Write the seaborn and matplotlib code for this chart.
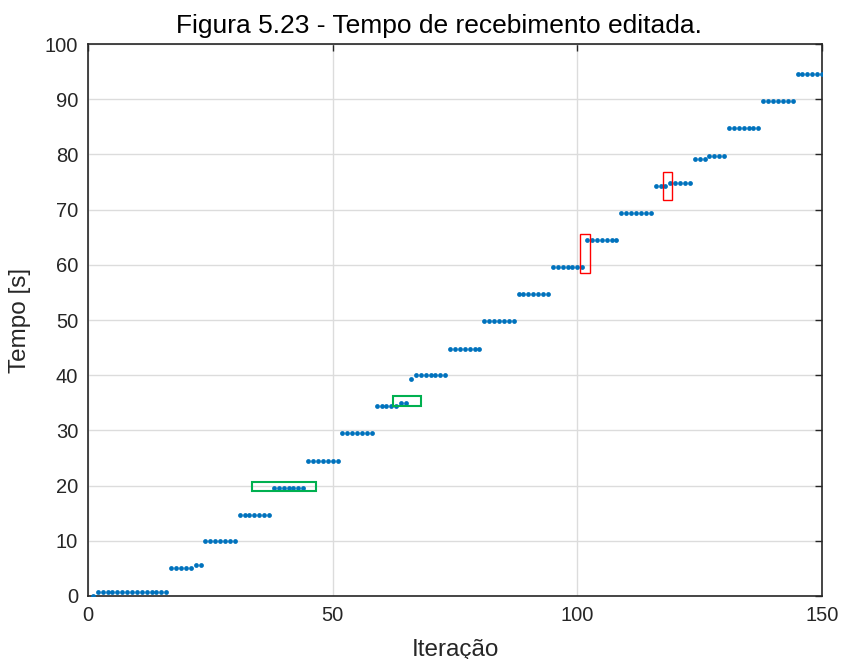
import matplotlib
matplotlib.use("Agg")
import matplotlib.pyplot as plt
from matplotlib.patches import Rectangle
import numpy as np
import pandas as pd
import seaborn as sns

# Reception time for each iteration (s)
iteracao = list(range(1, 151))
tempo = [
    0.0,
    0.7, 0.7, 0.7, 0.7, 0.7, 0.7, 0.7, 0.7, 0.7, 0.7, 0.7, 0.7, 0.7, 0.7, 0.7,
    5.0, 5.0, 5.0, 5.0, 5.0,
    5.6, 5.6,
    9.9, 9.9, 9.9, 9.9, 9.9, 9.9, 9.9,
    14.7, 14.7, 14.7, 14.7, 14.7, 14.7, 14.7,
    19.6, 19.6, 19.6, 19.6, 19.6, 19.6, 19.6,
    24.5, 24.5, 24.5, 24.5, 24.5, 24.5, 24.5,
    29.5, 29.5, 29.5, 29.5, 29.5, 29.5, 29.5,
    34.4, 34.4, 34.4, 34.4, 34.4,
    35.0, 35.0,
    39.3,
    40.0, 40.0, 40.0, 40.0, 40.0, 40.0, 40.0,
    44.8, 44.8, 44.8, 44.8, 44.8, 44.8, 44.8,
    49.8, 49.8, 49.8, 49.8, 49.8, 49.8, 49.8,
    54.7, 54.7, 54.7, 54.7, 54.7, 54.7, 54.7,
    59.6, 59.6, 59.6, 59.6, 59.6, 59.6, 59.6,
    64.5, 64.5, 64.5, 64.5, 64.5, 64.5, 64.5,
    69.4, 69.4, 69.4, 69.4, 69.4, 69.4, 69.4,
    74.3, 74.3, 74.3,
    74.9, 74.9, 74.9, 74.9, 74.9,
    79.2, 79.2, 79.2,
    79.8, 79.8, 79.8, 79.8,
    84.8, 84.8, 84.8, 84.8, 84.8, 84.8, 84.8,
    89.7, 89.7, 89.7, 89.7, 89.7, 89.7, 89.7,
    94.6, 94.6, 94.6, 94.6, 94.6, 94.6,
]

# Highlight boxes: (x0, x1, y0, y1)
caixas_verdes = [(33.6, 46.7, 19.0, 20.7), (62.3, 68.0, 34.4, 36.2)]
caixas_vermelhas = [(100.6, 102.5, 58.6, 65.5), (117.5, 119.4, 71.8, 76.9)]

x_ticks = [0, 50, 100, 150]
y_ticks = [0, 10, 20, 30, 40, 50, 60, 70, 80, 90, 100]

df = pd.DataFrame({"Iteração": iteracao, "Tempo": tempo})

sns.set_theme(style="white")
plt.rcParams["font.family"] = ["Liberation Sans", "DejaVu Sans"]

fig = plt.figure(figsize=(8.41, 6.59), dpi=100)
ax = fig.add_axes([0.1046, 0.0956, 0.8728, 0.8376])

sns.scatterplot(data=df, x="Iteração", y="Tempo", ax=ax, color="#0072BD",
                s=12, linewidth=0, marker="o", zorder=3)

for x0, x1, y0, y1 in caixas_verdes:
    ax.add_patch(Rectangle((x0, y0), x1 - x0, y1 - y0, fill=False,
                           edgecolor="#00B050", linewidth=1.5, zorder=4))
for x0, x1, y0, y1 in caixas_vermelhas:
    ax.add_patch(Rectangle((x0, y0), x1 - x0, y1 - y0, fill=False,
                           edgecolor="#FF0000", linewidth=1.0, zorder=4))

ax.set_xlim(0, 150)
ax.set_ylim(0, 100)
ax.set_xticks(x_ticks)
ax.set_yticks(y_ticks)
ax.grid(True, color="#DCDCDC", linewidth=1.0, zorder=0)
ax.set_axisbelow(True)

for sp in ax.spines.values():
    sp.set_visible(True)
    sp.set_color("#262626")
    sp.set_linewidth(1.2)

ax.tick_params(axis="both", direction="in", length=5, width=1.0,
               colors="#262626", labelsize=14.5, top=True, right=True,
               labelcolor="#262626", pad=7)

ax.set_xlabel("Iteração", fontsize=17.5, color="#262626", labelpad=10)
ax.set_ylabel("Tempo [s]", fontsize=17.5, color="#262626", labelpad=10)
ax.set_title("Figura 5.23 - Tempo de recebimento editada.", fontsize=19,
             color="black", pad=8, x=0.478)

fig.savefig("out.png", dpi=100)
